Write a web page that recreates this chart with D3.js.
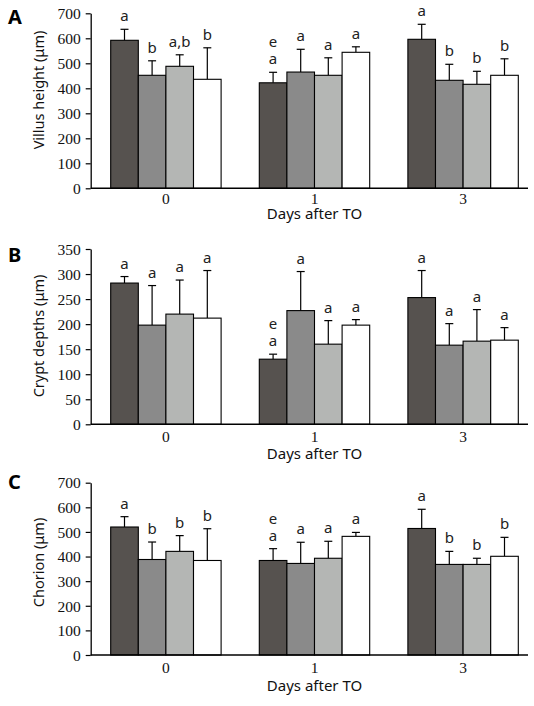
<!DOCTYPE html>
<html>
<head>
<meta charset="utf-8">
<script src="https://cdn.jsdelivr.net/npm/d3@7"></script>
<style>
  html, body { margin: 0; padding: 0; background: #fff; }
  svg { display: block; }
</style>
</head>
<body>
<svg id="chart" width="534" height="706"></svg>
<script>
// ---------- data ----------
const groups = ["0", "1", "3"];
const series = ["s1", "s2", "s3", "s4"];
const seriesColors = ["#56524f", "#8a8a8a", "#b4b6b4", "#ffffff"];

const villusMean = [[592, 452, 488, 436], [422, 465, 452, 544], [596, 432, 416, 452]];
const villusSD   = [[44, 58, 46, 126], [42, 91, 70, 22], [60, 64, 52, 66]];
const villusSig  = [["a", "b", "a,b", "b"], ["e|a", "a", "a", "a"], ["a", "b", "b", "b"]];
const villusTicks = [0, 100, 200, 300, 400, 500, 600, 700];

const cryptMean = [[282, 198, 220, 212], [130, 227, 160, 198], [253, 158, 166, 168]];
const cryptSD   = [[13, 79, 68, 95], [10, 78, 47, 11], [54, 43, 63, 25]];
const cryptSig  = [["a", "a", "a", "a"], ["e|a", "a", "a", "a"], ["a", "a", "a", "a"]];
const cryptTicks = [0, 50, 100, 150, 200, 250, 300, 350];

const chorionMean = [[520, 388, 421, 384], [384, 372, 393, 482], [514, 368, 368, 401]];
const chorionSD   = [[42, 71, 64, 129], [48, 86, 69, 16], [78, 53, 25, 77]];
const chorionSig  = [["a", "b", "b", "b"], ["e|a", "a", "a", "a"], ["a", "b", "b", "b"]];
const chorionTicks = [0, 100, 200, 300, 400, 500, 600, 700];

const xTitle = "Days after TO";

// ---------- layout ----------
const panels = [
  { letter: "A", ylabel: "Villus height (\u03bcm)", mean: villusMean, sd: villusSD, sig: villusSig, ticks: villusTicks,
    top: 13.3, bottom: 188.3, letterY: 23.5, ylabelY: 90, tickDy: 15.5, titleDy: 30.5 },
  { letter: "B", ylabel: "Crypt depths (\u03bcm)", mean: cryptMean, sd: cryptSD, sig: cryptSig, ticks: cryptTicks,
    top: 249, bottom: 424.3, letterY: 262, ylabelY: 336, tickDy: 17.5, titleDy: 34.5 },
  { letter: "C", ylabel: "Chorion (\u03bcm)", mean: chorionMean, sd: chorionSD, sig: chorionSig, ticks: chorionTicks,
    top: 482.7, bottom: 655, letterY: 489, ylabelY: 562.5, tickDy: 18, titleDy: 36 }
];

const axisX = 90.7, axisRight = 528;
const sansFont = "'Noto Sans', 'DejaVu Sans', sans-serif";
const serifFont = "'Liberation Serif', 'DejaVu Serif', serif";

const svg = d3.select("#chart");

const x0 = d3.scaleBand().domain(groups).range([110.7, 518.3]).paddingInner(0.257).paddingOuter(0);
const x1 = d3.scaleBand().domain(series).range([0, x0.bandwidth()]).padding(0);
const color = d3.scaleOrdinal().domain(series).range(seriesColors);

panels.forEach(p => {
  const g = svg.append("g");
  const y = d3.scaleLinear().domain([0, d3.max(p.ticks)]).range([p.bottom, p.top]);

  // panel letter
  g.append("text")
    .attr("x", 8).attr("y", p.letterY)
    .attr("font-family", sansFont).attr("font-weight", "bold").attr("font-size", 20)
    .attr("fill", "#000").text(p.letter);

  // y axis
  const yAxis = d3.axisLeft(y).tickValues(p.ticks).tickSize(5).tickSizeOuter(0).tickPadding(5);
  const ya = g.append("g").attr("transform", `translate(${axisX},0)`).call(yAxis);
  ya.select(".domain").attr("stroke", "#000").attr("stroke-width", 1.3);
  ya.selectAll(".tick line").attr("stroke", "#000").attr("stroke-width", 1.2);
  ya.selectAll(".tick text").attr("font-family", serifFont).attr("font-size", 15.5)
    .attr("fill", "#111").attr("dy", "0.34em");

  // y label
  g.append("text")
    .attr("transform", `translate(38,${p.ylabelY}) rotate(-90)`)
    .attr("text-anchor", "middle").attr("dominant-baseline", "central")
    .attr("font-family", sansFont).attr("font-size", 14.5).attr("fill", "#111")
    .text(p.ylabel);

  // bars
  groups.forEach((grp, gi) => {
    const gg = g.append("g").attr("transform", `translate(${x0(grp)},0)`);
    series.forEach((s, si) => {
      const v = p.mean[gi][si], e = p.sd[gi][si];
      const bx = x1(s), bw = x1.bandwidth(), cx = bx + bw / 2;
      // error bar (upper only)
      gg.append("line").attr("x1", cx).attr("x2", cx).attr("y1", y(v)).attr("y2", y(v + e))
        .attr("stroke", "#000").attr("stroke-width", 1.2);
      gg.append("line").attr("x1", cx - 4).attr("x2", cx + 4).attr("y1", y(v + e)).attr("y2", y(v + e))
        .attr("stroke", "#000").attr("stroke-width", 1.2);
      gg.append("rect").attr("x", bx).attr("y", y(v)).attr("width", bw).attr("height", y(0) - y(v))
        .attr("fill", color(s)).attr("stroke", "#000").attr("stroke-width", 1.1);
      // significance letters
      const lines = p.sig[gi][si].split("|");
      lines.forEach((t, li) => {
        gg.append("text")
          .attr("x", cx).attr("y", y(v + e) - 8 - (lines.length - 1 - li) * 17)
          .attr("text-anchor", "middle")
          .attr("font-family", sansFont).attr("font-size", 15).attr("fill", "#222")
          .text(t);
      });
    });
  });

  // x axis line
  g.append("line").attr("x1", axisX).attr("x2", axisRight).attr("y1", p.bottom).attr("y2", p.bottom)
    .attr("stroke", "#000").attr("stroke-width", 1.6);

  // x tick labels
  groups.forEach(grp => {
    g.append("text")
      .attr("x", x0(grp) + x0.bandwidth() / 2).attr("y", p.bottom + p.tickDy)
      .attr("text-anchor", "middle")
      .attr("font-family", serifFont).attr("font-size", 15.5).attr("fill", "#111")
      .text(grp);
  });

  // x title
  g.append("text")
    .attr("x", x0(groups[1]) + x0.bandwidth() / 2).attr("y", p.bottom + p.titleDy)
    .attr("text-anchor", "middle")
    .attr("font-family", sansFont).attr("font-size", 15).attr("fill", "#111")
    .text(xTitle);
});
</script>
</body>
</html>
